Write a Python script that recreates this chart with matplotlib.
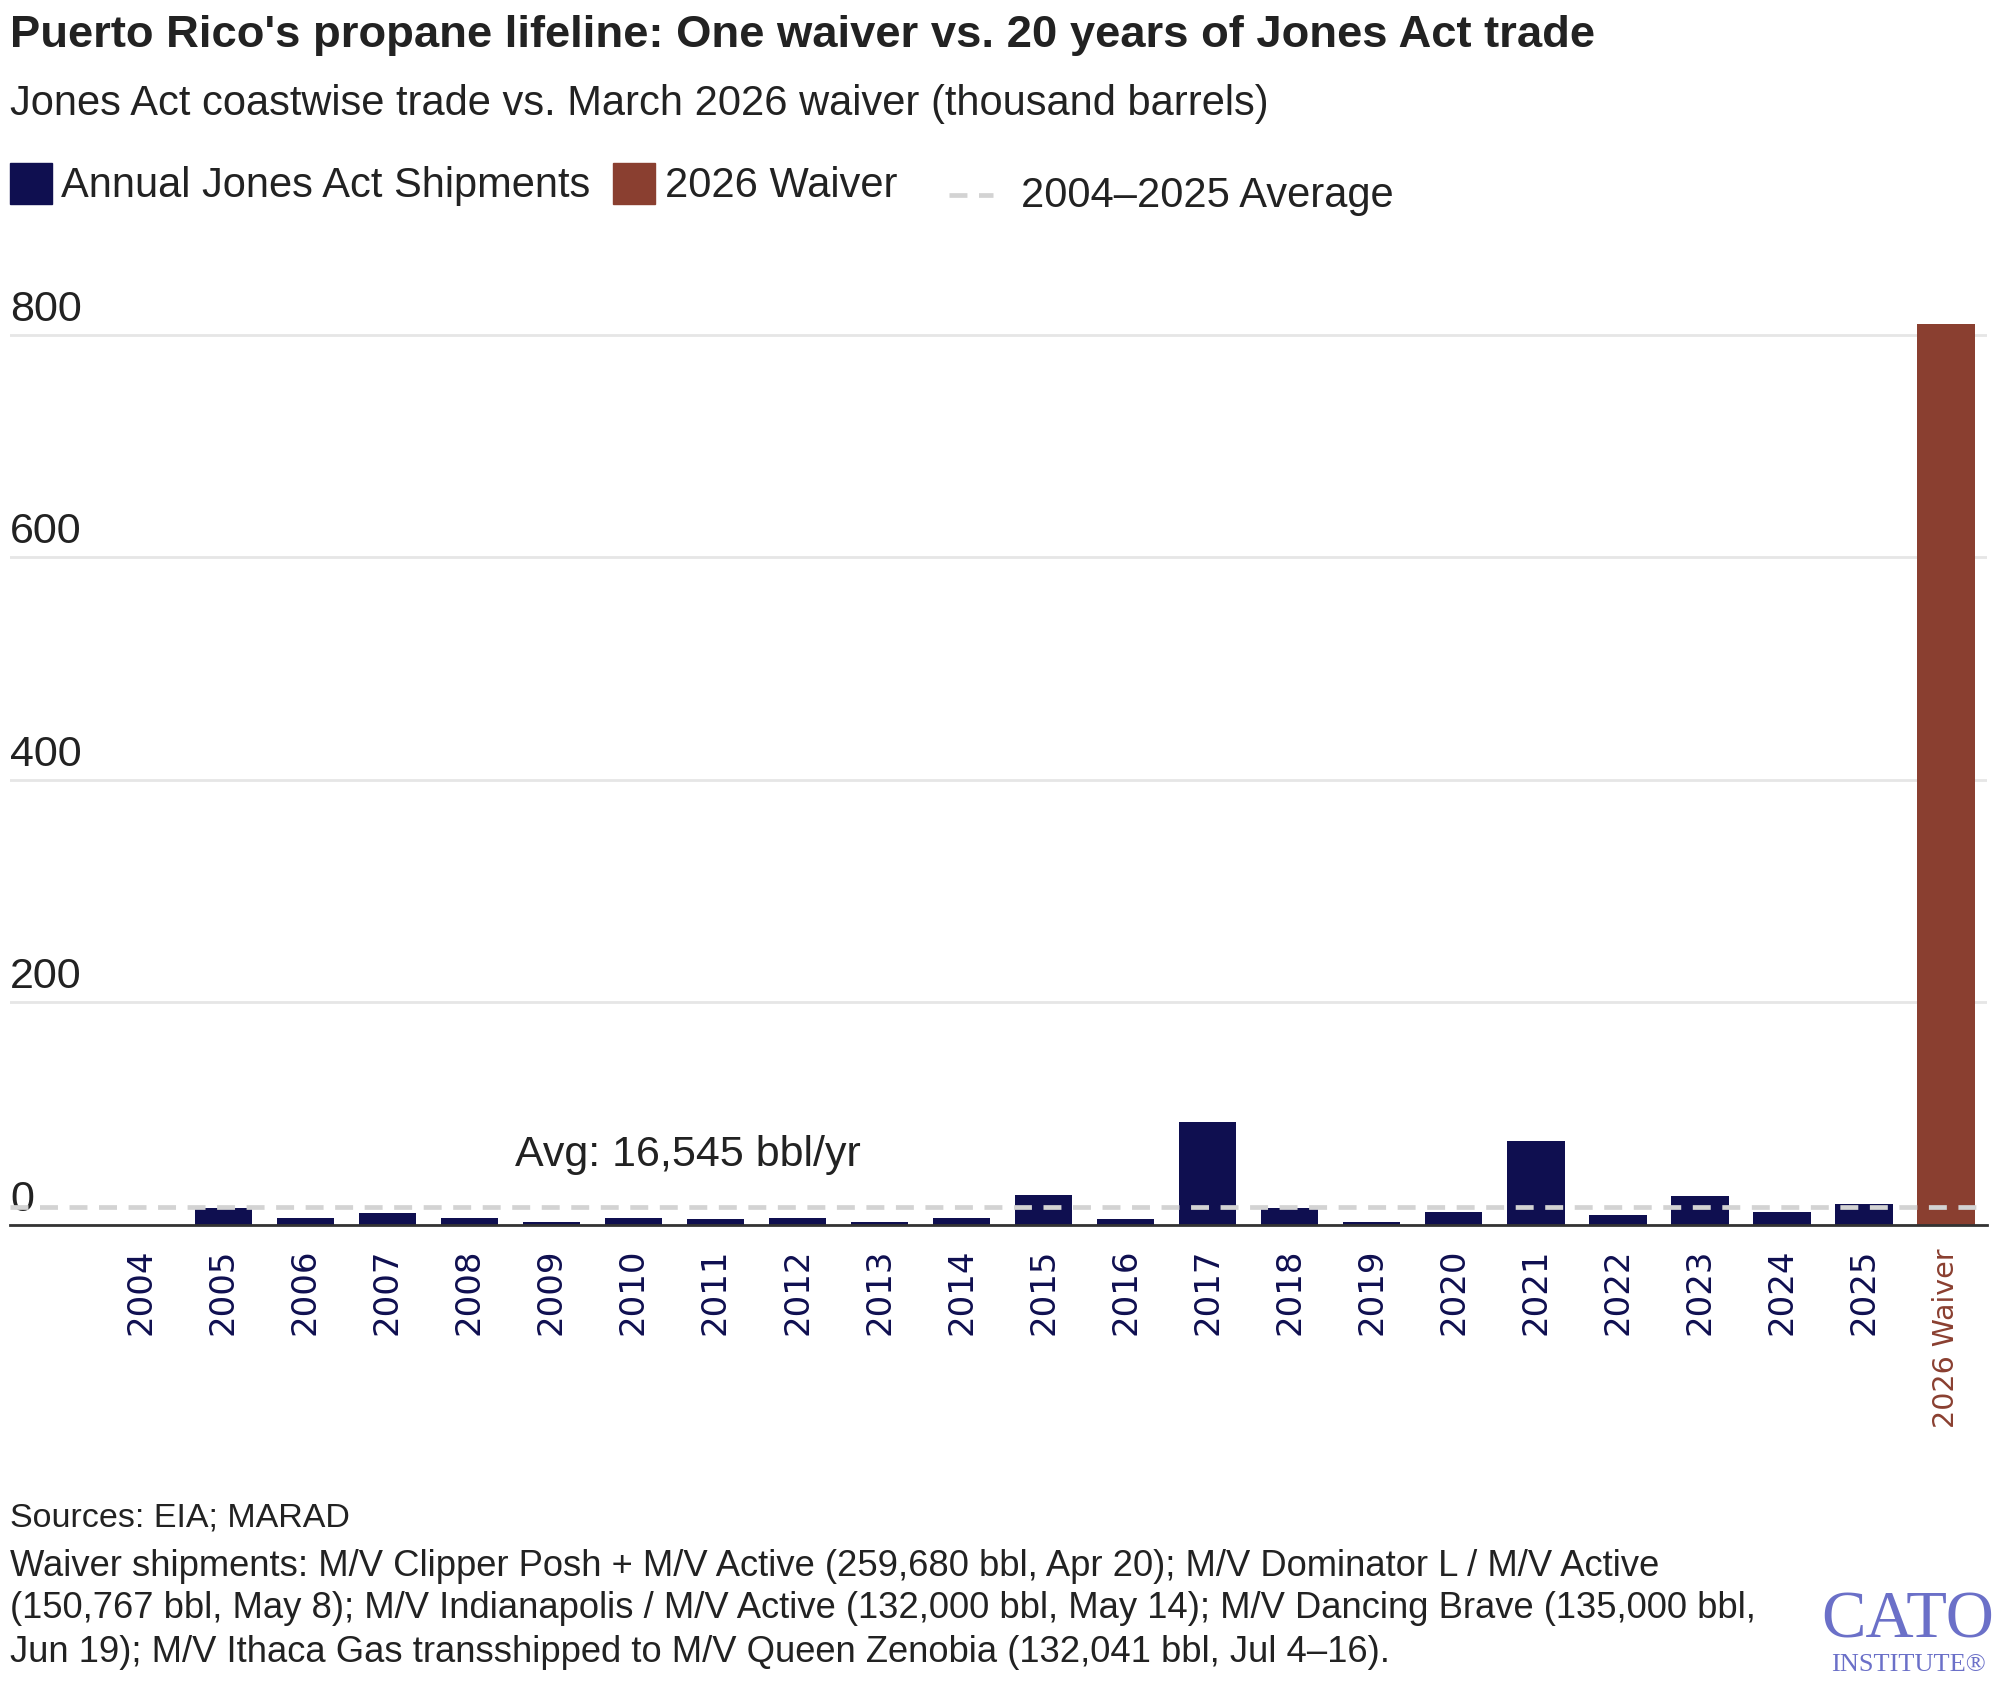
import matplotlib
matplotlib.use('Agg')
import matplotlib.pyplot as plt
from matplotlib.patches import Rectangle
from matplotlib.lines import Line2D
import matplotlib.transforms as mtransforms

# ---------------- data ----------------
years = [str(y) for y in range(2004, 2026)]
shipments = [0.0, 15.3, 6.3, 10.8, 6.3, 2.7, 6.3, 5.4, 6.3, 2.7, 6.3,
             27.0, 5.4, 92.6, 15.3, 2.7, 11.7, 75.5, 9.0, 26.1, 11.7, 18.9]
waiver_label = "2026 Waiver"
waiver_shipments_bbl = [259680, 150767, 132000, 135000, 132041]
waiver_value = sum(waiver_shipments_bbl) / 1000.0
avg_value = 16.545
y_ticks = [0, 200, 400, 600, 800]

NAVY = '#0f0f50'
BROWN = '#8a3f30'
GRID = '#e6e6e6'
AVG = '#d3d3d3'
TEXT = '#222222'
LOGO = '#6b70c8'

plt.rcParams['font.family'] = ['Liberation Sans', 'DejaVu Sans']

W, H = 1997, 1688
fig = plt.figure(figsize=(W / 100, H / 100), dpi=100)
fig.patch.set_facecolor('white')


def fx(px):
    return px / W


def fy(py):
    return 1 - py / H


ax = fig.add_axes([fx(10), fy(1225), fx(1987) - fx(10), fy(290) - fy(1225)])
ax.set_xlim(-1.6, 22.5)
ax.set_ylim(0, 840.4)

xs = list(range(len(years)))
ax.bar(xs, shipments, width=0.7, color=NAVY, zorder=2)
ax.bar([len(years)], [waiver_value], width=0.7, color=BROWN, zorder=2)

ax.set_yticks(y_ticks)
ax.set_yticklabels([])
ax.grid(axis='y', color=GRID, lw=2, zorder=0)
ax.set_axisbelow(True)
ax.tick_params(axis='both', length=0)
for s in ['top', 'right', 'left']:
    ax.spines[s].set_visible(False)
ax.spines['bottom'].set_color('#333333')
ax.spines['bottom'].set_linewidth(2)
ax.spines['bottom'].set_zorder(4)

ylab_tr = ax.get_yaxis_transform() + mtransforms.ScaledTranslation(0, 5 / 100, fig.dpi_scale_trans)
for v in y_ticks:
    ax.text(0, v, str(v), transform=ylab_tr, ha='left', va='bottom',
            fontsize=31, color=TEXT)

ax.set_xticks(xs + [len(years)])
ax.set_xticklabels(years + [waiver_label], rotation=90, fontsize=24.5,
                   family='DejaVu Sans')
for i, lab in enumerate(ax.get_xticklabels()):
    if i == len(years):
        lab.set_color(BROWN)
        lab.set_fontsize(20.5)
    else:
        lab.set_color(NAVY)
ax.tick_params(axis='x', pad=17)

ax.axhline(avg_value, color=AVG, lw=3.4, dashes=(3.8, 2.45), zorder=3)
ax.text(4.56, 62.9, "Avg: 16,545 bbl/yr", ha='left', va='center',
        fontsize=31, color=TEXT)

# ---------------- titles ----------------
fig.text(fx(10), fy(35), "Puerto Rico's propane lifeline: One waiver vs. 20 years of Jones Act trade",
         ha='left', va='center', fontsize=32.7, weight='bold', color=TEXT)
fig.text(fx(10), fy(104), "Jones Act coastwise trade vs. March 2026 waiver (thousand barrels)",
         ha='left', va='center', fontsize=30, color=TEXT)

# ---------------- legend ----------------
fig.patches.append(Rectangle((fx(10), fy(204)), fx(42), fy(0) - fy(41),
                             transform=fig.transFigure, color=NAVY))
fig.text(fx(61), fy(186), "Annual Jones Act Shipments", ha='left', va='center',
         fontsize=30, color=TEXT)
fig.patches.append(Rectangle((fx(613), fy(204)), fx(42), fy(0) - fy(41),
                             transform=fig.transFigure, color=BROWN))
fig.text(fx(665), fy(186), waiver_label, ha='left', va='center',
         fontsize=30, color=TEXT)
fig.lines.append(Line2D([fx(949), fx(993)], [fy(195), fy(195)],
                        transform=fig.transFigure, color=AVG, lw=3.4,
                        dashes=(3.8, 2.45)))
fig.text(fx(1021), fy(196), "2004\u20132025 Average", ha='left', va='center',
         fontsize=30, color=TEXT)

# ---------------- footer ----------------
fig.text(fx(10), fy(1518), "Sources: EIA; MARAD", ha='left', va='center',
         fontsize=24.5, color=TEXT)
foot_lines = [
    "Waiver shipments: M/V Clipper Posh + M/V Active (259,680 bbl, Apr 20); M/V Dominator L / M/V Active",
    "(150,767 bbl, May 8); M/V Indianapolis / M/V Active (132,000 bbl, May 14); M/V Dancing Brave (135,000 bbl,",
    "Jun 19); M/V Ithaca Gas transshipped to M/V Queen Zenobia (132,041 bbl, Jul 4\u201316).",
]
for i, line in enumerate(foot_lines):
    fig.text(fx(10), fy(1566 + 43 * i), line, ha='left', va='center',
             fontsize=26.2, color=TEXT)

# ---------------- logo ----------------
fig.text(fx(1908), fy(1621), "CATO", ha='center', va='center',
         fontsize=48, color=LOGO, family='Liberation Serif')
fig.text(fx(1908), fy(1665), "INSTITUTE\u00ae", ha='center', va='center',
         fontsize=19, color=LOGO, family='Liberation Serif')

fig.savefig('out.png', dpi=100, facecolor='white')
